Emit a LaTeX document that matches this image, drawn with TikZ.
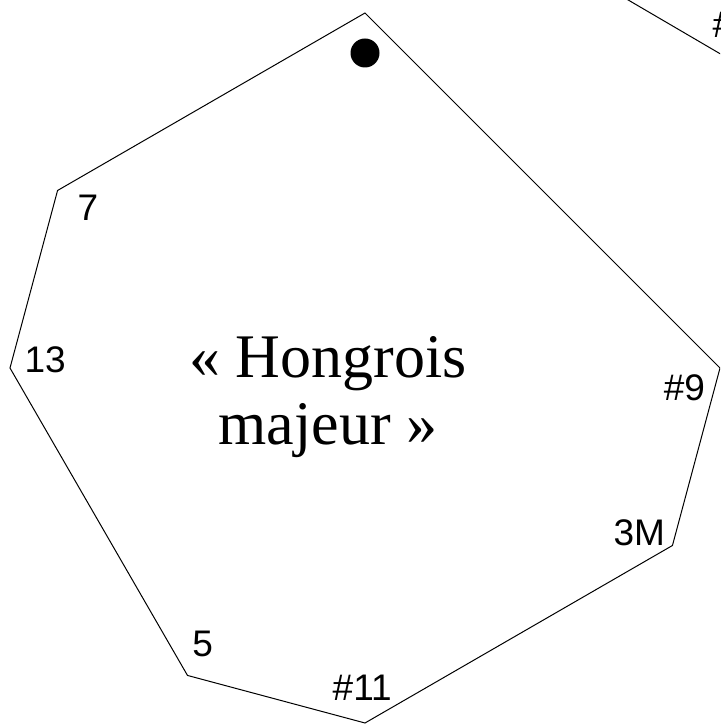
\documentclass[tikz,border=0pt]{standalone}
\usepackage{fontspec}
\setmainfont{Liberation Serif}
\setsansfont{Liberation Sans}
\usepackage{tikz}
\usetikzlibrary{positioning,calc}

\begin{document}
\begin{tikzpicture}[x=1pt, y=1pt, line width=1pt,
    degree/.style={font=\sffamily\fontsize{37}{40}\selectfont, inner sep=0pt},
    title/.style={font=\fontsize{62}{67}\selectfont, align=center, inner sep=0pt}]
        \path[use as bounding box, clip] (0,0) rectangle (720,727);

        % Centre of the twelve semitones
        \coordinate (c) at (365,359);

        % Corners of the scale (semitones above the root)
        \foreach \k in {0,3,4,6,7,9,10}
          \coordinate (v\k) at ($(c)+({90-30*\k}:355)$);
        \draw (v0) -- (v3) -- (v4) -- (v6) -- (v7) -- (v9) -- (v10) -- cycle;

        % Root
        \node[circle, fill, inner sep=0pt, minimum size=29pt] (root) at ($(c)+(90:315)$) {};

        % Degrees, just inside their corners
        \foreach \k/\a/\lab in {3/-3.5/\#9, 4/-31/3M, 6/-90.5/\#11, 7/-120.5/5, 9/178.5/13, 10/150/7}
          \node[degree] (d\k) at ($(c)+(\a:320)$) {\lab};

        \node[title] (name) at (328,330) {«~Hongrois\\majeur~»};

        % Next diagram, cut off by the frame
        \coordinate (n1) at (582,754);
        \coordinate (n2) at (765,647);
        \draw (n1) -- (n2);
        \node[degree, anchor=west] (nlab) at (712,702) {\#};
      \end{tikzpicture}
\end{document}
